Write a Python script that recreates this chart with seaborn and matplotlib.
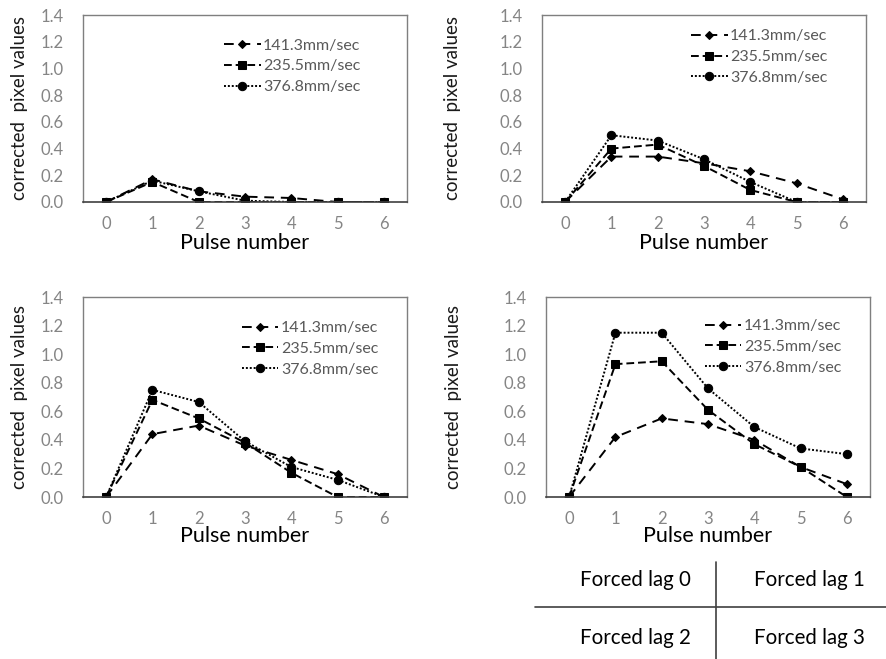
import matplotlib
matplotlib.use("Agg")
import matplotlib.pyplot as plt
from matplotlib.lines import Line2D
import seaborn as sns

# Pulse index on the x axis
pulses = [0, 1, 2, 3, 4, 5, 6]
speed_labels = ["141.3mm/sec", "235.5mm/sec", "376.8mm/sec"]
x_ticks = [0, 1, 2, 3, 4, 5, 6]
y_ticks = [0.0, 0.2, 0.4, 0.6, 0.8, 1.0, 1.2, 1.4]

# Corrected pixel values, one list per speed, for each forced lag
lag0_141 = [0.0, 0.17, 0.08, 0.04, 0.03, 0.0, 0.0]
lag0_235 = [0.0, 0.15, 0.0, 0.0, 0.0, 0.0, 0.0]
lag0_376 = [0.0, 0.16, 0.08, 0.01, 0.0, 0.0, 0.0]

lag1_141 = [0.0, 0.34, 0.34, 0.29, 0.23, 0.14, 0.02]
lag1_235 = [0.0, 0.40, 0.43, 0.27, 0.09, 0.0, 0.0]
lag1_376 = [0.0, 0.50, 0.46, 0.32, 0.15, 0.0, 0.0]

lag2_141 = [0.0, 0.44, 0.50, 0.36, 0.26, 0.16, 0.0]
lag2_235 = [0.0, 0.68, 0.55, 0.38, 0.17, 0.0, 0.0]
lag2_376 = [0.0, 0.75, 0.665, 0.39, 0.21, 0.12, 0.0]

lag3_141 = [0.0, 0.42, 0.55, 0.51, 0.40, 0.21, 0.09]
lag3_235 = [0.0, 0.93, 0.95, 0.61, 0.37, 0.21, 0.0]
lag3_376 = [0.0, 1.15, 1.15, 0.76, 0.49, 0.34, 0.30]

panel_titles = ["Forced lag 0", "Forced lag 1", "Forced lag 2", "Forced lag 3"]

sns.set_style("white")
plt.rcParams["font.family"] = ["Lato", "DejaVu Sans"]

W, H = 886, 659
fig = plt.figure(figsize=(W / 100, H / 100), dpi=100)

def frac_rect(left, top, right, bottom):
    return [left / W, 1 - bottom / H, (right - left) / W, (bottom - top) / H]

panels = [
    dict(rect=frac_rect(83, 15, 407, 202), data=[lag0_141, lag0_235, lag0_376],
         leg=(0.435, 0.875), ylab_x=-0.17, xlab_y=-0.165),
    dict(rect=frac_rect(542, 15, 866, 202), data=[lag1_141, lag1_235, lag1_376],
         leg=(0.46, 0.925), ylab_x=-0.25, xlab_y=-0.165),
    dict(rect=frac_rect(83, 297, 407, 497), data=[lag2_141, lag2_235, lag2_376],
         leg=(0.49, 0.88), ylab_x=-0.17, xlab_y=-0.145),
    dict(rect=frac_rect(546, 297, 870, 497), data=[lag3_141, lag3_235, lag3_376],
         leg=(0.49, 0.89), ylab_x=-0.26, xlab_y=-0.145),
]

styles = [
    dict(linestyle=(0, (5, 3.5)), marker="D", markersize=4.5),
    dict(linestyle=(0, (4, 2)), marker="s", markersize=6),
    dict(linestyle=(0, (1, 1)), marker="o", markersize=6),
]

tick_color = "#858585"
for p in panels:
    ax = fig.add_axes(p["rect"])
    for vals, lab, st in zip(p["data"], speed_labels, styles):
        sns.lineplot(x=pulses, y=vals, ax=ax, color="black", linewidth=1.4,
                     markeredgecolor="black", markerfacecolor="black",
                     label=lab, **st)
    ax.set_xlim(-0.5, 6.5)
    ax.set_ylim(0, 1.4)
    ax.set_xticks(x_ticks)
    ax.set_yticks(y_ticks)
    ax.set_yticklabels([f"{v:.1f}" for v in y_ticks])
    ax.tick_params(axis="both", length=0, labelsize=12, labelcolor=tick_color)
    ax.tick_params(axis="y", pad=14)
    ax.tick_params(axis="x", pad=10)
    for side in ["top", "left", "right"]:
        ax.spines[side].set_color("#7f7f7f")
        ax.spines[side].set_linewidth(1.0)
    ax.spines["bottom"].set_color("#404040")
    ax.spines["bottom"].set_linewidth(1.2)
    ax.set_xlabel("Pulse number", fontsize=15.5, color="black")
    ax.xaxis.set_label_coords(0.5, p["xlab_y"])
    ax.set_ylabel("corrected  pixel values", fontsize=13.5, color="#1a1a1a")
    ax.yaxis.set_label_coords(p["ylab_x"], 0.5)
    leg = ax.legend(loc="upper left", bbox_to_anchor=p["leg"], frameon=False,
                    fontsize=11.5, handlelength=2.3, handletextpad=0.15,
                    labelspacing=0.42, borderpad=0, borderaxespad=0, numpoints=1)
    for t in leg.get_texts():
        t.set_color("#595959")

# Key to panel arrangement, drawn as a small cross-shaped table
fig.add_artist(Line2D([535 / W, 1.0], [1 - 607 / H, 1 - 607 / H],
                      transform=fig.transFigure, color="#404040", linewidth=1.2))
fig.add_artist(Line2D([716 / W, 716 / W], [1 - 562 / H, 0.0],
                      transform=fig.transFigure, color="#404040", linewidth=1.2))
cells = [(635, 580), (809, 580), (635, 638), (809, 638)]
for (cx, cy), txt in zip(cells, panel_titles):
    fig.text(cx / W, 1 - cy / H, txt, ha="center", va="center",
             fontsize=14.8, color="black")

fig.savefig("out.png", dpi=100)
